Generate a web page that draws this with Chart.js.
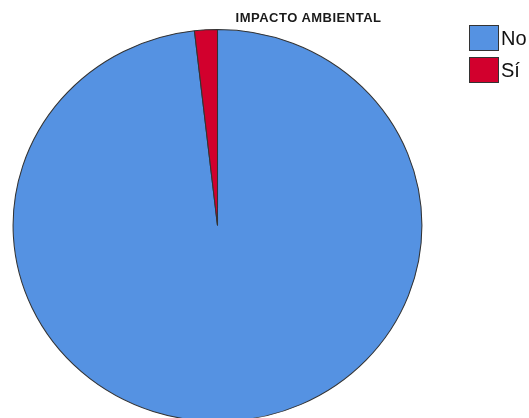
<!DOCTYPE html>
<html>
<head>
<meta charset="utf-8">
<script src="https://cdn.jsdelivr.net/npm/chart.js@4/dist/chart.umd.min.js"></script>
<style>
  html, body { margin: 0; padding: 0; background: #fff; overflow: hidden; width: 529px; height: 418px; }
  #wrap { position: absolute; left: 0; top: 0; width: 529px; height: 422px; }
  #title { position: absolute; top: 10px; left: 228px; width: 161px; text-align: center;
    font: bold 13px "Liberation Sans", Arial, sans-serif; letter-spacing: 0.5px; color: #1a1a1a; white-space: nowrap; }
  #legend { position: absolute; left: 469px; top: 25px; font: 20px "Liberation Sans", Arial, sans-serif; color: #111; }
  .item { display: flex; align-items: center; height: 26px; margin-bottom: 6px; }
  .box { width: 28px; height: 24px; border: 1px solid #333; margin-right: 2px; }
</style>
</head>
<body>
<div id="wrap"><canvas id="pieChart"></canvas></div>
<div id="title">IMPACTO AMBIENTAL</div>
<div id="legend"></div>
<script>
const labels = ["No", "Sí"];
const values = [98.2, 1.8];
const colors = ["#5592E2", "#D2002D"];

// SPSS output is a bit wider than tall, so stretch the pie horizontally
const stretchX = {
  id: "stretchX",
  beforeDatasetsDraw(chart) {
    const ctx = chart.ctx;
    const cx = (chart.chartArea.left + chart.chartArea.right) / 2;
    ctx.save();
    ctx.translate(cx, 0);
    ctx.scale(1.043, 1);
    ctx.translate(-cx, 0);
  },
  afterDatasetsDraw(chart) {
    chart.ctx.restore();
  }
};

const ctx = document.getElementById("pieChart").getContext("2d");
const chart = new Chart(ctx, {
  type: "pie",
  data: {
    labels,
    datasets: [{
      data: values,
      backgroundColor: colors,
      borderColor: "#333",
      borderWidth: 1
    }]
  },
  options: {
    responsive: true,
    maintainAspectRatio: false,
    animation: false,
    rotation: 0,
    layout: { padding: { top: 29, bottom: 0, left: 21, right: 115 } },
    plugins: {
      legend: { display: false },
      title: { display: false },
      tooltip: { enabled: false }
    }
  },
  plugins: [stretchX]
});

// legend built from the chart data
const legendEl = document.getElementById("legend");
chart.data.labels.forEach((lab, i) => {
  const item = document.createElement("div");
  item.className = "item";
  const box = document.createElement("span");
  box.className = "box";
  box.style.background = chart.data.datasets[0].backgroundColor[i];
  const txt = document.createElement("span");
  txt.textContent = lab;
  item.appendChild(box);
  item.appendChild(txt);
  legendEl.appendChild(item);
});
</script>
</body>
</html>
